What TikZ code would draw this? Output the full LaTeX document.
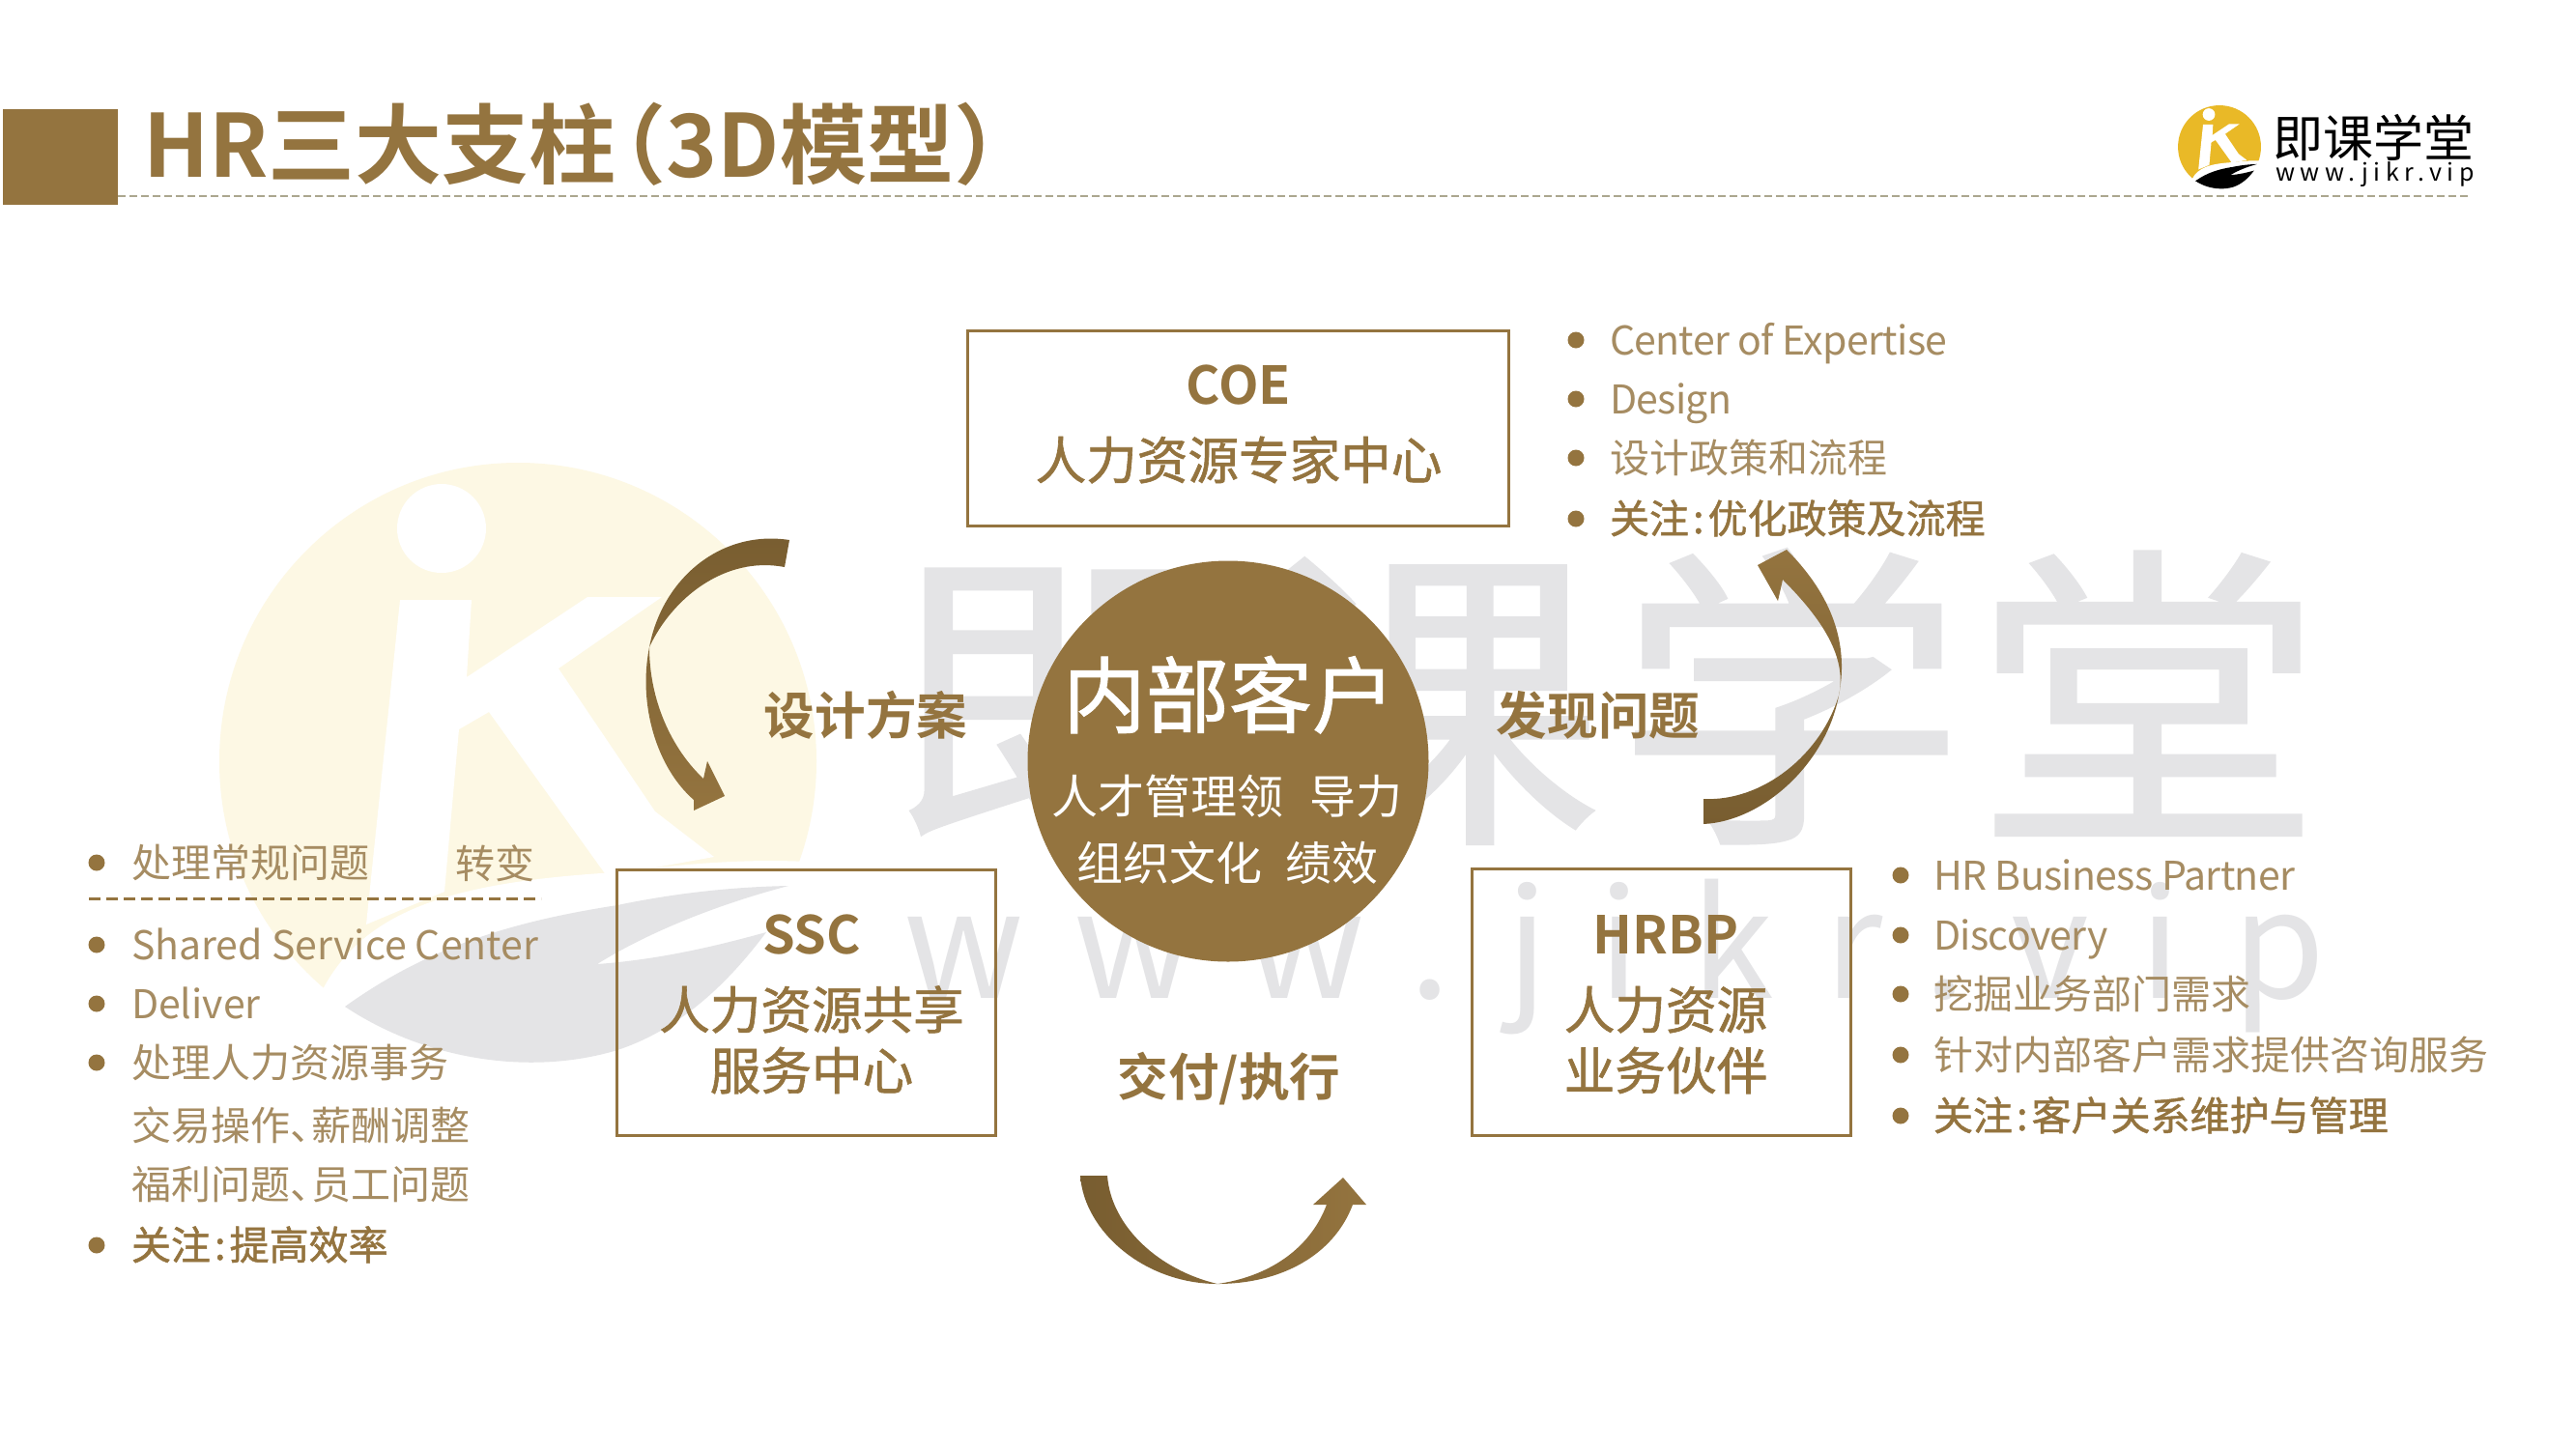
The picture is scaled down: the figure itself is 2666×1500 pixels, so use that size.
\documentclass[tikz,border=0pt]{standalone}
\usepackage{fontspec}
\setmainfont{Noto Sans CJK SC}[BoldFont={Noto Sans CJK SC Bold}]
\newfontfamily\medf{Noto Sans CJK SC}[FakeBold=1.2]
\newfontfamily\wmf{Noto Sans CJK SC}[FakeBold=0.6]
\newfontfamily\wmlat{Noto Sans CJK SC}[LetterSpace=34]
\newfontfamily\logolat{Noto Sans CJK SC}[LetterSpace=22.5]
\newfontfamily\narrowlat{Noto Sans CJK SC}[LetterSpace=-1.6]
\definecolor{brown}{HTML}{94743F}
\definecolor{brownd}{HTML}{785D30}
\definecolor{brownl}{HTML}{A68C62}
\definecolor{wmgrey}{HTML}{E4E4E6}
\definecolor{wmyel}{HTML}{FDF8E4}
\definecolor{logoyel}{HTML}{E9B927}
\definecolor{hdash}{HTML}{ABA78F}
\tikzset{
  bx/.style={draw=brown,line width=1.5pt,inner sep=0pt},
  t/.style={inner sep=0pt,outer sep=0pt,anchor=base},
  tw/.style={inner sep=0pt,outer sep=0pt,anchor=base west},
  li/.style={tw,text=brownl,font=\fontsize{20.5pt}{24pt}\selectfont},
  lin/.style={tw,text=brownl,font=\fontsize{20.5pt}{24pt}\selectfont\narrowlat},
  lim/.style={tw,text=brown,font=\fontsize{20.5pt}{24pt}\selectfont\medf},
  bd/.style={circle,fill=brown,inner sep=0pt,minimum size=8.5pt},
  boxb/.style={t,text=brown,font=\fontsize{27pt}{30pt}\selectfont\bfseries},
  boxm/.style={t,text=brown,font=\fontsize{26.3pt}{30pt}\selectfont\medf},
  lab/.style={t,text=brown,font=\fontsize{26.3pt}{30pt}\selectfont\bfseries},
  wm/.style={t,text=wmgrey,font=\fontsize{165pt}{180pt}\selectfont\wmf,xscale=1.1,transform shape},
}
\newcommand{\logomark}[4]{% x y scale colour
  \begin{scope}[shift={(#1,#2)},scale=#3]
  \fill[#4] (0,0) circle[radius=309];
  \fill[white] (-79,-241) circle[radius=46];
  \fill[white] (-122,-167)--(-48,-167)--(-53,-87)--(72,-170)--(149,-170)--(42,-96)
     --(142,52)--(203,99)--(92,119)--(-30,-51)--(-61,-33)--(-76,135)--(-157,169)--cycle;
  \fill[white] (-205,242) .. controls (-160,150) and (-60,125) .. (101,115)
     .. controls (180,105) and (250,100) .. (315,105)--(315,332)--(-205,332)--cycle;
  \end{scope}
}
\newcommand{\logoleaf}[4]{%
  \begin{scope}[shift={(#1,#2)},scale=#3]
  \fill[#4] (-179,254) .. controls (-90,190) and (0,165) .. (103,149)
     .. controls (170,135) and (230,130) .. (280,129)
     .. controls (200,150) and (130,180) .. (82,210)
     .. controls (150,205) and (210,190) .. (257,177)
     .. controls (210,240) and (160,280) .. (103,299)
     .. controls (40,318) and (-30,315) .. (-93,295)
     .. controls (-125,285) and (-155,270) .. (-179,254)--cycle;
  \end{scope}
}
\begin{document}
\begin{tikzpicture}[x=0.5pt,y=-0.5pt]
\useasboundingbox (0,0) rectangle (2666,1500);
\fill[white] (0,0) rectangle (2666,1500);
% watermark
\logomark{536}{788}{1}{wmyel}
\logoleaf{536}{788}{1}{wmgrey}
\node[wm] (wm1) at (1100,848) {即};
\node[wm] (wm2) at (1478,848) {课};
\node[wm] (wm3) at (1853,848) {学};
\node[wm] (wm4) at (2223,848) {堂};
\node[tw,text=wmgrey,font=\fontsize{77.5pt}{80pt}\selectfont\wmlat] (wmurl) at (935,1033) {www.jikr.vip};
% header
\fill[brown] (3,113) rectangle (122,212);
\coordinate (hdL) at (122,203);
\coordinate (hdR) at (2556,203);
\draw[hdash,line width=1pt,dash pattern=on 4pt off 2pt] (hdL) -- (hdR);
\node[tw,text=brown,font=\fontsize{45pt}{50pt}\selectfont\bfseries] (title) at (148,183)
  {HR三大支柱\hspace{-.42em}（3D模型）\hspace{-.42em}};
% small logo
\logomark{2297}{152}{0.139}{logoyel}
\logoleaf{2297}{152}{0.139}{black}
\node[tw,text=black,font=\fontsize{26pt}{28pt}\selectfont] (lgt) at (2352,162) {即课学堂};
\node[tw,text=black,font=\fontsize{12.5pt}{14pt}\selectfont\logolat] (lgu) at (2355,187) {www.jikr.vip};
% boxes
\node[bx,minimum width=280pt,minimum height=101pt] (coe) at (1281,443) {};
\node[bx,minimum width=196pt,minimum height=137.5pt] (ssc) at (834.5,1037.5) {};
\node[bx,minimum width=196pt,minimum height=138pt] (hrbp) at (1719,1037) {};
\node[boxb] (coe1) at (1282,418) {COE};
\node[boxm] (coe2) at (1282,496) {人力资源专家中心};
\node[boxb] (ssc1) at (840,987) {SSC};
\node[boxm] (ssc2) at (840,1065) {人力资源共享};
\node[boxm] (ssc3) at (840,1128) {服务中心};
\node[boxb] (hr1) at (1724,987) {HRBP};
\node[boxm] (hr2) at (1724,1065) {人力资源};
\node[boxm] (hr3) at (1724,1128) {业务伙伴};
% centre
\node[circle,fill=brown,inner sep=0pt,minimum size=207.5pt] (core) at (1271,788) {};
\node[t,text=white,font=\fontsize{43pt}{46pt}\selectfont\medf] (c1) at (1272,752) {内部客户};
\node[t,text=white,font=\fontsize{24pt}{26pt}\selectfont] (c2) at (1270,842) {人才管理领\hspace{.55em}导力};
\node[t,text=white,font=\fontsize{24pt}{26pt}\selectfont] (c3) at (1270,911) {组织文化\hspace{.5em}绩效};
% labels
\node[lab] (la) at (896,760) {设计方案};
\node[lab] (lb) at (1654,760) {发现问题};
\node[lab] (lc) at (1272,1134) {交付/执行};
% arrows
\shade[top color=brownd,bottom color=brown]
  (817,559) .. controls (745,548) and (685,600) .. (672,670)
  .. controls (660,730) and (680,795) .. (718,828)
  -- (718,839) -- (750,824) -- (732,788) -- (728,806)
  .. controls (695,775) and (672,725) .. (672,670)
  .. controls (695,620) and (750,575) .. (812,587) -- cycle;
\shade[top color=brown,bottom color=brownd]
  (1763,853) .. controls (1825,850) and (1890,790) .. (1903,720)
  .. controls (1915,660) and (1890,610) .. (1849,569)
  -- (1819,585) -- (1840,622) -- (1845,600)
  .. controls (1885,640) and (1912,680) .. (1903,720)
  .. controls (1885,780) and (1825,830) .. (1763,827) -- cycle;
\shade[left color=brownd,right color=brown]
  (1118,1217) .. controls (1122,1275) and (1185,1329) .. (1260,1329)
  .. controls (1325,1329) and (1380,1300) .. (1400,1247)
  -- (1414,1247) -- (1390,1219) -- (1359,1247) -- (1373,1247)
  .. controls (1355,1295) and (1310,1322) .. (1260,1329)
  .. controls (1200,1315) and (1150,1270) .. (1146,1217) -- cycle;
% COE list
\node[bd] (a1) at (1631,352) {}; \node[lin] (at1) at (1666,367) {Center of Expertise};
\node[bd] (a2) at (1631,413) {}; \node[lin] (at2) at (1666,428) {Design};
\node[bd] (a3) at (1631,474) {}; \node[li] (at3) at (1666,489) {设计政策和流程};
\node[bd] (a4) at (1631,537) {}; \node[lim] (at4) at (1666,552) {关注\hspace{.1em}:\hspace{.1em}优化政策及流程};
% HRBP list
\node[bd] (b1) at (1967,906) {}; \node[lin] (bt1) at (2001,921) {HR Business Partner};
\node[bd] (b2) at (1967,968) {}; \node[lin] (bt2) at (2001,983) {Discovery};
\node[bd] (b3) at (1967,1029) {}; \node[li] (bt3) at (2001,1044) {挖掘业务部门需求};
\node[bd] (b4) at (1967,1092) {}; \node[li] (bt4) at (2001,1107) {针对内部客户需求提供咨询服务};
\node[bd] (b5) at (1967,1155) {}; \node[lim] (bt5) at (2001,1170) {关注\hspace{.1em}:\hspace{.1em}客户关系维护与管理};
% SSC list
\node[bd] (c01) at (100,893) {}; \node[li] (ct1) at (136,908) {处理常规问题};
\node[li] (ct1b) at (471,909) {转变};
\coordinate (dL) at (92,930);
\coordinate (dR) at (560,930);
\draw[brown,line width=1.5pt,dash pattern=on 6pt off 3pt] (dL) -- (dR);
\node[bd] (c02) at (100,978) {}; \node[li] (ct2) at (136,993) {Shared Service Center};
\node[bd] (c03) at (100,1039) {}; \node[li] (ct3) at (136,1054) {Deliver};
\node[bd] (c04) at (100,1100) {}; \node[li] (ct4) at (136,1115) {处理人力资源事务};
\node[li] (ct5) at (136,1180) {交易操作、\hspace{-.45em}薪酬调整};
\node[li] (ct6) at (136,1241) {福利问题、\hspace{-.45em}员工问题};
\node[bd] (c05) at (100,1289) {}; \node[lim] (ct7) at (136,1304) {关注\hspace{.1em}:\hspace{.1em}提高效率};
\end{tikzpicture}
\end{document}
